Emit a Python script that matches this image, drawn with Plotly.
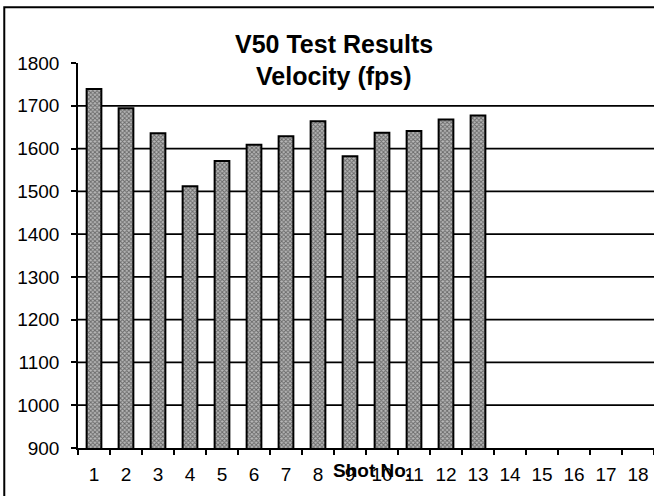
import plotly.graph_objects as go

shots = [str(i) for i in range(1, 19)]
tested_shots = [str(i) for i in range(1, 14)]
velocity_fps = [1739, 1694, 1636, 1512, 1571, 1609, 1629, 1664, 1582, 1637, 1641, 1668, 1677]
y_ticks = [900, 1000, 1100, 1200, 1300, 1400, 1500, 1600, 1700, 1800]
grid_values = [1000, 1100, 1200, 1300, 1400, 1500, 1600, 1700]

FONT = "Liberation Sans, Arial, sans-serif"

fig = go.Figure()
fig.add_trace(go.Bar(
    x=tested_shots,
    y=velocity_fps,
    width=0.46,
    marker=dict(
        color="#9a9a9a",
        line=dict(color="black", width=2),
        pattern=dict(shape="x", size=3, solidity=0.55, fgcolor="#1e1e1e", bgcolor="#b8b8b8"),
    ),
    showlegend=False,
))

shapes = []
for g in grid_values:
    shapes.append(dict(type="line", xref="paper", yref="y", x0=0, x1=1, y0=g, y1=g,
                       line=dict(color="black", width=1.8), layer="below"))
# outer frame (scanned page border)
shapes.append(dict(type="rect", xref="paper", yref="paper", x0=-0.128, x1=1.05, y0=-0.3, y1=1.145,
                   line=dict(color="black", width=2), layer="below"))

fig.update_layout(
    width=654, height=496,
    margin=dict(l=78, r=0, t=63, b=48),
    paper_bgcolor="white", plot_bgcolor="white",
    font=dict(family=FONT, color="black", size=19),
    shapes=shapes,
    annotations=[
        dict(text="<b>V50 Test Results</b>", xref="paper", yref="paper", x=0.444, y=1.049,
             xanchor="center", yanchor="middle", showarrow=False, font=dict(size=25, family=FONT)),
        dict(text="<b>Velocity (fps)</b>", xref="paper", yref="paper", x=0.444, y=0.967,
             xanchor="center", yanchor="middle", showarrow=False, font=dict(size=25, family=FONT)),
        dict(text="<b>Shot No.</b>", xref="paper", yref="paper", x=0.51, y=-0.058,
             xanchor="center", yanchor="middle", showarrow=False, font=dict(size=19, family=FONT)),
    ],
)
fig.update_xaxes(
    type="category", categoryorder="array", categoryarray=shots,
    tickvals=shots, ticktext=shots,
    range=[-0.5, 17.5],
    showline=True, linecolor="black", linewidth=1.5,
    ticks="outside", ticklen=5, tickcolor="black", tickwidth=1.5,
    tickson="boundaries", ticklabelstandoff=8,
    showgrid=False, zeroline=False,
)
fig.update_yaxes(
    range=[900, 1800], tickvals=y_ticks,
    showline=True, linecolor="black", linewidth=1.5,
    ticks="outside", ticklen=5, tickcolor="black", tickwidth=1.5,
    ticklabelstandoff=8,
    showgrid=False, zeroline=False,
)

fig.write_html(
    "out.html",
    config={"displayModeBar": False},
    post_script="document.body.style.margin='0px';document.body.style.overflow='hidden';",
)
